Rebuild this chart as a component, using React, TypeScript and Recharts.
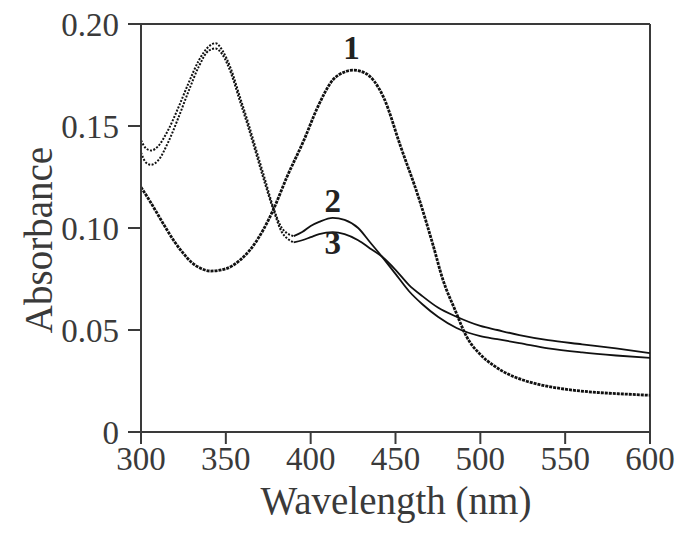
import { LineChart, Line, XAxis, YAxis, ReferenceLine, ReferenceDot } from "recharts";

// Curve 1
const curve1Wl = [300, 305, 310, 315, 320, 325, 330, 335, 341, 350, 358, 364, 372, 378, 386, 396, 404, 413, 420, 425, 432, 443, 453, 464, 472, 478, 485, 492, 500, 508, 516, 525, 535, 550, 570, 585, 600];
const curve1Abs = [0.12, 0.1135, 0.1065, 0.0995, 0.093, 0.0875, 0.083, 0.0803, 0.0789, 0.08, 0.084, 0.089, 0.099, 0.109, 0.125, 0.143, 0.159, 0.1725, 0.1765, 0.1774, 0.176, 0.164, 0.14, 0.114, 0.092, 0.0745, 0.06, 0.0466, 0.038, 0.0325, 0.0285, 0.0255, 0.0232, 0.021, 0.0193, 0.0186, 0.018];

// Curves 2 and 3, UV part (dotted in the scan)
const uvWl = [300, 303, 306, 310, 316, 322, 328, 334, 340, 344, 348, 353, 358, 363, 368, 373, 378, 383, 386, 390];
const curve2UvAbs = [0.143, 0.139, 0.138, 0.14, 0.148, 0.159, 0.171, 0.182, 0.189, 0.1906, 0.187, 0.178, 0.165, 0.152, 0.138, 0.124, 0.11, 0.1, 0.0975, 0.096];
const curve3UvAbs = [0.137, 0.132, 0.131, 0.133, 0.142, 0.154, 0.167, 0.179, 0.187, 0.188, 0.185, 0.176, 0.163, 0.15, 0.136, 0.122, 0.109, 0.098, 0.095, 0.093];

// Curves 2 and 3, visible part
const visWl = [390, 395, 400, 405, 413, 420, 428, 435, 442, 450, 458, 466, 475, 486, 500, 510, 523, 540, 560, 580, 600];
const curve2VisAbs = [0.096, 0.098, 0.101, 0.103, 0.105, 0.104, 0.1, 0.093, 0.086, 0.0775, 0.069, 0.0625, 0.0565, 0.051, 0.047, 0.0455, 0.0436, 0.041, 0.039, 0.0375, 0.0363];
const curve3VisAbs = [0.093, 0.094, 0.0955, 0.097, 0.098, 0.097, 0.094, 0.09, 0.086, 0.0795, 0.072, 0.0665, 0.061, 0.0565, 0.052, 0.05, 0.0475, 0.045, 0.043, 0.041, 0.0387];

const xTicks = [300, 350, 400, 450, 500, 550, 600];
const yTicks = [0, 0.05, 0.1, 0.15, 0.2];

const toRows = (wl: number[], abs: number[]) => wl.map((w, i) => ({ wl: w, abs: abs[i] }));

const curve1Data = toRows(curve1Wl, curve1Abs);
const curve2UvData = toRows(uvWl, curve2UvAbs);
const curve3UvData = toRows(uvWl, curve3UvAbs);
const curve2VisData = toRows(visWl, curve2VisAbs);
const curve3VisData = toRows(visWl, curve3VisAbs);

const FONT = "'Liberation Serif', 'DejaVu Serif', serif";
const AXIS = "#3a3a3a";
const INK = "#111";

const tickStyle = { fill: AXIS, fontSize: 33, fontFamily: FONT };

function YTitle() {
  const cx = 38;
  const cy = 240;
  return (
    <text x={cx} y={cy} transform={`rotate(-90 ${cx} ${cy})`} textAnchor="middle" dominantBaseline="central"
          fill={AXIS} fontSize={39} fontFamily={FONT}>Absorbance</text>
  );
}

function XTitle() {
  return (
    <text x={396} y={500} textAnchor="middle" dominantBaseline="central" fill={AXIS} fontSize={39} fontFamily={FONT}>
      Wavelength (nm)
    </text>
  );
}

const curveLabel = (text: string) => ({
  value: text,
  position: "center" as const,
  fill: "#222",
  fontSize: 33,
  fontWeight: "bold",
  fontFamily: FONT,
});

export default function App() {
  return (
    <div style={{ position: "absolute", left: 0, top: 0, background: "#fff" }}>
      <LineChart width={676} height={534} margin={{ top: 24, right: 26, left: 0, bottom: 0 }}>
        <XAxis type="number" dataKey="wl" domain={[300, 600]} ticks={xTicks} allowDataOverflow
               height={102} tickSize={12} tickMargin={3} tick={tickStyle}
               axisLine={{ stroke: AXIS, strokeWidth: 2 }} tickLine={{ stroke: AXIS, strokeWidth: 2 }}
               label={<XTitle />} />
        <YAxis type="number" dataKey="abs" domain={[0, 0.2]} ticks={yTicks} allowDataOverflow
               width={141} tickSize={13} tickMargin={9} tick={tickStyle}
               tickFormatter={(v: number) => (v === 0 ? "0" : v.toFixed(2))}
               axisLine={{ stroke: AXIS, strokeWidth: 2 }} tickLine={{ stroke: AXIS, strokeWidth: 2 }}
               label={<YTitle />} />
        <ReferenceLine y={0.2} stroke={AXIS} strokeWidth={2} />
        <ReferenceLine x={600} stroke={AXIS} strokeWidth={2} />

        <Line data={curve2UvData} dataKey="abs" type="monotone" stroke={INK} strokeWidth={2}
              strokeDasharray="2 1.5" dot={false} isAnimationActive={false} />
        <Line data={curve3UvData} dataKey="abs" type="monotone" stroke={INK} strokeWidth={2}
              strokeDasharray="2 1.5" dot={false} isAnimationActive={false} />
        <Line data={curve2VisData} dataKey="abs" type="monotone" stroke={INK} strokeWidth={1.8}
              dot={false} isAnimationActive={false} />
        <Line data={curve3VisData} dataKey="abs" type="monotone" stroke={INK} strokeWidth={1.8}
              dot={false} isAnimationActive={false} />
        <Line data={curve1Data} dataKey="abs" type="monotone" stroke={INK} strokeWidth={2.8}
              strokeDasharray="3 1" dot={false} isAnimationActive={false} />

        <ReferenceDot x={424} y={0.1887} r={0} label={curveLabel("1")} />
        <ReferenceDot x={413} y={0.1137} r={0} label={curveLabel("2")} />
        <ReferenceDot x={413} y={0.093} r={0} label={curveLabel("3")} />
      </LineChart>
    </div>
  );
}
